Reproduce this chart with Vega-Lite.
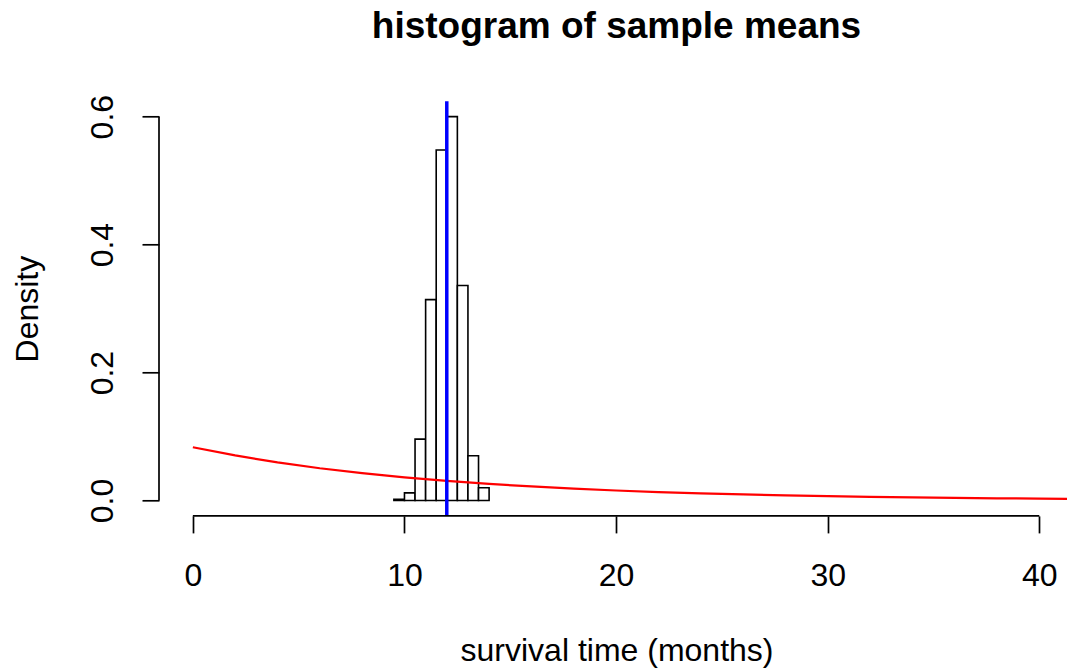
{
  "$schema": "https://vega.github.io/schema/vega-lite/v6.json",
  "width": 908,
  "height": 414.6,
  "autosize": {"type": "none"},
  "padding": {"left": 159, "top": 101.3, "right": 0, "bottom": 153.1},
  "background": "white",
  "title": {
    "text": "histogram of sample means",
    "font": "Liberation Sans",
    "fontSize": 37,
    "fontWeight": "bold",
    "color": "black",
    "anchor": "middle",
    "frame": "group",
    "dx": 3.5,
    "baseline": "alphabetic",
    "offset": 19
  },
  "config": {
    "view": {"stroke": null},
    "axis": {
      "grid": false,
      "domain": false,
      "tickColor": "black",
      "tickWidth": 1.7,
      "tickSize": 17,
      "labelColor": "black",
      "labelFont": "Liberation Sans",
      "labelFontSize": 32,
      "titleColor": "black",
      "titleFont": "Liberation Sans",
      "titleFontSize": 32,
      "titleFontWeight": "normal",
      "labelOverlap": false,
      "labelFlush": false
    }
  },
  "datasets": {
    "bins": [
      {"lo": 9.5, "hi": 10.0, "density": 0.002},
      {"lo": 10.0, "hi": 10.5, "density": 0.012},
      {"lo": 10.5, "hi": 11.0, "density": 0.096},
      {"lo": 11.0, "hi": 11.5, "density": 0.314},
      {"lo": 11.5, "hi": 12.0, "density": 0.548},
      {"lo": 12.0, "hi": 12.5, "density": 0.600},
      {"lo": 12.5, "hi": 13.0, "density": 0.336},
      {"lo": 13.0, "hi": 13.5, "density": 0.070},
      {"lo": 13.5, "hi": 14.0, "density": 0.020}
    ],
    "curve": [
      {"x": 0, "density": 0.0833},
      {"x": 2, "density": 0.0705},
      {"x": 4, "density": 0.0597},
      {"x": 6, "density": 0.0505},
      {"x": 8, "density": 0.0428},
      {"x": 10, "density": 0.0362},
      {"x": 12, "density": 0.0307},
      {"x": 14, "density": 0.0260},
      {"x": 16, "density": 0.0220},
      {"x": 18, "density": 0.0186},
      {"x": 20, "density": 0.0157},
      {"x": 22, "density": 0.0133},
      {"x": 24, "density": 0.0113},
      {"x": 26, "density": 0.0096},
      {"x": 28, "density": 0.0081},
      {"x": 30, "density": 0.0068},
      {"x": 32, "density": 0.0058},
      {"x": 34, "density": 0.0049},
      {"x": 36, "density": 0.0042},
      {"x": 38, "density": 0.0035},
      {"x": 40, "density": 0.0030},
      {"x": 41.6, "density": 0.0026}
    ],
    "mean": [{"mean": 12}]
  },
  "layer": [
    {
      "data": {"name": "bins"},
      "mark": {"type": "rect", "fill": "white", "stroke": "black", "strokeWidth": 1.6},
      "encoding": {
        "x": {
          "field": "lo", "type": "quantitative",
          "scale": {"domain": [-1.6, 41.31], "nice": false, "zero": false},
          "axis": {
            "values": [0, 10, 20, 30, 40],
            "title": "survival time (months)",
            "labelBaseline": "alphabetic",
            "labelPadding": 53,
            "titleBaseline": "alphabetic",
            "titleAlign": "center",
            "titleX": 457.5,
            "titleY": 145
          }
        },
        "x2": {"field": "hi"},
        "y": {
          "field": "density", "type": "quantitative",
          "scale": {"domain": [-0.024, 0.624], "nice": false, "zero": false},
          "axis": {
            "values": [0, 0.2, 0.4, 0.6],
            "format": ".1f",
            "title": "Density",
            "labelAngle": -90,
            "labelAlign": "center",
            "labelBaseline": "alphabetic",
            "labelPadding": 30,
            "titleAngle": -90,
            "titleAlign": "center",
            "titleBaseline": "alphabetic",
            "titleX": -122,
            "titleY": 207.3
          }
        },
        "y2": {"datum": 0}
      }
    },
    {
      "data": {"name": "curve"},
      "mark": {"type": "line", "color": "red", "strokeWidth": 2.2, "clip": true},
      "encoding": {
        "x": {"field": "x", "type": "quantitative"},
        "y": {"field": "density", "type": "quantitative"}
      }
    },
    {
      "data": {"name": "mean"},
      "mark": {"type": "rule", "color": "blue", "strokeWidth": 3.5},
      "encoding": {
        "x": {"field": "mean", "type": "quantitative"}
      }
    },
    {
      "data": {"values": [{}]},
      "mark": {"type": "rule", "color": "black", "strokeWidth": 1.7},
      "encoding": {
        "x": {"datum": -1.6},
        "y": {"datum": 0},
        "y2": {"datum": 0.6}
      }
    },
    {
      "data": {"values": [{}]},
      "mark": {"type": "rule", "color": "black", "strokeWidth": 1.7},
      "encoding": {
        "x": {"datum": 0},
        "x2": {"datum": 40},
        "y": {"datum": -0.024}
      }
    }
  ]
}
